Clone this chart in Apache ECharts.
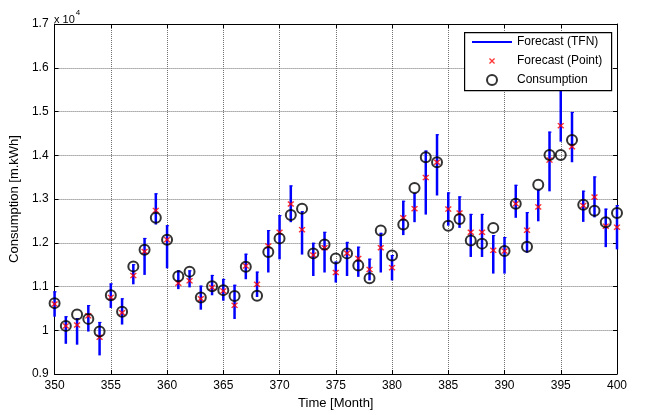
<!DOCTYPE html>
<html><head><meta charset="utf-8">
<script src="https://cdn.jsdelivr.net/npm/echarts@6/dist/echarts.min.js"></script>
<style>html,body{margin:0;padding:0;background:#fff}#c{width:646px;height:415px}</style>
</head><body><div id="c"></div>
<script>
const months = [350,351,352,353,354,355,356,357,358,359,360,361,362,363,364,365,366,367,368,369,370,371,372,373,374,375,376,377,378,379,380,381,382,383,384,385,386,387,388,389,390,391,392,393,394,395,396,397,398,399,400];
const consumption = [10620,10100,10360,10260,9970,10800,10425,11460,11840,12570,12070,11234,11340,10750,11007,10917,10785,11450,10790,11790,12100,12636,12780,11757,11960,11640,11757,11480,11190,12280,11710,12416,13250,13955,13840,12390,12545,12050,11980,12340,11810,12890,11910,13325,14007,14007,14348,12870,12734,12470,12680];
const forecastPoint = [10600,10100,10120,10330,9840,10750,10400,11250,11800,12740,12070,11075,11130,10720,10980,10900,10570,11470,11050,11925,12240,12886,12300,11720,11886,11320,11760,11640,11390,11886,11430,12570,12780,13490,13840,12770,12680,12240,12240,11826,11810,12890,12288,12820,13890,14675,14197,12850,13045,12380,12357];
const tfnLow = [10310,9690,9670,9970,9425,10510,10130,11050,11265,12416,11416,10940,10980,10470,10800,10675,10257,11166,10760,11320,11620,12470,11730,11240,11320,11090,11240,11220,11140,11320,11140,12175,12470,12644,13080,12390,12340,11675,11675,11295,11295,12570,11770,12490,13175,14310,13840,12477,12580,11900,11848];
const tfnHigh = [10890,10320,10280,10575,10190,11070,10730,11510,12110,13130,12400,11370,11370,11020,11265,11174,11040,11750,11340,12290,12630,13310,12720,12000,12250,11570,12020,11910,11636,12227,11720,12960,13136,14107,14480,13150,13060,12660,12660,12175,12130,13325,12700,13210,14540,15600,14990,13190,13516,12780,12860];
const xTicks = {min:350, max:400, step:5};
const yTicks = {min:9000, max:17000, step:1000};

const FONT = '"Liberation Sans", Arial, sans-serif';
const chart = echarts.init(document.getElementById('c'), null, {renderer:'canvas'});

const tfnData = months.map((m,i)=>[m, tfnLow[i], tfnHigh[i]]);
const pointData = months.map((m,i)=>[m, forecastPoint[i]]);
const consData = months.map((m,i)=>[m, consumption[i]]);

const xMark = 'path://M0,1.5 L1.5,0 L5,3.5 L8.5,0 L10,1.5 L6.5,5 L10,8.5 L8.5,10 L5,6.5 L1.5,10 L0,8.5 L3.5,5 Z';
const lineIcon = 'path://M0,0 L40,0 L40,2 L0,2 Z';

const baseX = {min:xTicks.min, max:xTicks.max, interval:xTicks.step, type:'value'};
const baseY = {min:yTicks.min, max:yTicks.max, interval:yTicks.step, type:'value'};

const legendCommon = {padding:0, itemWidth:40, itemGap:0, orient:'vertical',
  textStyle:{fontFamily:FONT, fontSize:12, color:'#000'}, selectedMode:false, z:10};

chart.setOption({
  animation:false,
  backgroundColor:'#fff',
  grid:{left:53, right:29, top:24, bottom:38, show:false},
  xAxis:[
    Object.assign({}, baseX, {position:'bottom',
      name:'Time [Month]', nameLocation:'middle', nameGap:23,
      nameTextStyle:{fontFamily:FONT, fontSize:13, color:'#000'},
      axisLine:{show:true, onZero:false, lineStyle:{color:'#000', width:1}},
      axisTick:{show:true, inside:true, length:4, lineStyle:{color:'#000'}},
      axisLabel:{fontFamily:FONT, fontSize:12, color:'#000', margin:6},
      splitLine:{show:true, lineStyle:{color:'#707070', type:'dotted', width:1}}}),
    Object.assign({}, baseX, {position:'top',
      axisLine:{show:true, onZero:false, lineStyle:{color:'#000', width:1}},
      axisTick:{show:true, inside:true, length:4, lineStyle:{color:'#000'}},
      axisLabel:{show:false}, splitLine:{show:false}})
  ],
  yAxis:[
    Object.assign({}, baseY, {position:'left',
      name:'Consumption [m.kWh]', nameLocation:'middle', nameGap:32,
      nameTextStyle:{fontFamily:FONT, fontSize:13, color:'#000'},
      axisLine:{show:true, onZero:false, lineStyle:{color:'#000', width:1}},
      axisTick:{show:true, inside:true, length:4, lineStyle:{color:'#000'}},
      axisLabel:{fontFamily:FONT, fontSize:12, color:'#000', margin:6,
        formatter:v=>String(Math.round(v/1000)/10)},
      splitLine:{show:true, lineStyle:{color:'#707070', type:'dotted', width:1}}}),
    Object.assign({}, baseY, {position:'right',
      axisLine:{show:true, onZero:false, lineStyle:{color:'#000', width:1}},
      axisTick:{show:true, inside:true, length:4, lineStyle:{color:'#000'}},
      axisLabel:{show:false}, splitLine:{show:false}})
  ],
  legend:[
    Object.assign({}, legendCommon, {left:472, top:36, itemHeight:2, data:[{name:'Forecast (TFN)', icon:lineIcon, itemStyle:{color:'#0000ff'}}]}),
    Object.assign({}, legendCommon, {left:489, top:55, itemHeight:6, data:[{name:'Forecast (Point)', icon:xMark, itemStyle:{color:'#ff0000'}}]}),
    Object.assign({}, legendCommon, {left:486, top:74, itemHeight:10, data:[{name:'Consumption', icon:'circle', itemStyle:{color:'rgba(0,0,0,0)', borderColor:'#000', borderWidth:2}}]})
  ],
  graphic:[
    {type:'rect', left:464, top:32, shape:{width:147, height:58}, style:{fill:'#fff', stroke:'#000', lineWidth:1.2}, z:5},
    {type:'text', left:54, top:9, z:5, style:{text:'{a|x 10}{b|4}', rich:{
      a:{fontFamily:FONT, fontSize:11, color:'#000', verticalAlign:'bottom', padding:[5,0,0,0]},
      b:{fontFamily:FONT, fontSize:8, color:'#000', verticalAlign:'top', padding:[0,0,6,1]}}}}
  ],
  series:[
    {name:'Forecast (TFN)', type:'custom', xAxisIndex:0, yAxisIndex:0, data:tfnData, z:2,
      itemStyle:{color:'#0000ff'},
      encode:{x:0, y:[1,2]},
      renderItem:function(params, api){
        const x = api.value(0), lo = api.value(1), hi = api.value(2);
        const p1 = api.coord([x, lo]), p2 = api.coord([x, hi]);
        return {type:'group', children:[
          {type:'line', shape:{x1:p1[0], y1:p1[1], x2:p2[0], y2:p2[1]}, style:{stroke:'#0000ff', lineWidth:2.5}},
          {type:'line', shape:{x1:p2[0]-1.2, y1:p2[1]+0.5, x2:p2[0]+2, y2:p2[1]+0.5}, style:{stroke:'#0000ff', lineWidth:1}}
        ]};
      }},
    {name:'Forecast (Point)', type:'scatter', xAxisIndex:0, yAxisIndex:0, data:pointData, z:3,
      symbol:xMark, symbolSize:[7,6], itemStyle:{color:'#ff0000'}},
    {name:'Consumption', type:'scatter', xAxisIndex:0, yAxisIndex:0, data:consData, z:4,
      symbol:'circle', symbolSize:10,
      itemStyle:{color:'rgba(0,0,0,0)', borderColor:'#000', borderWidth:2}}
  ]
});
</script></body></html>
